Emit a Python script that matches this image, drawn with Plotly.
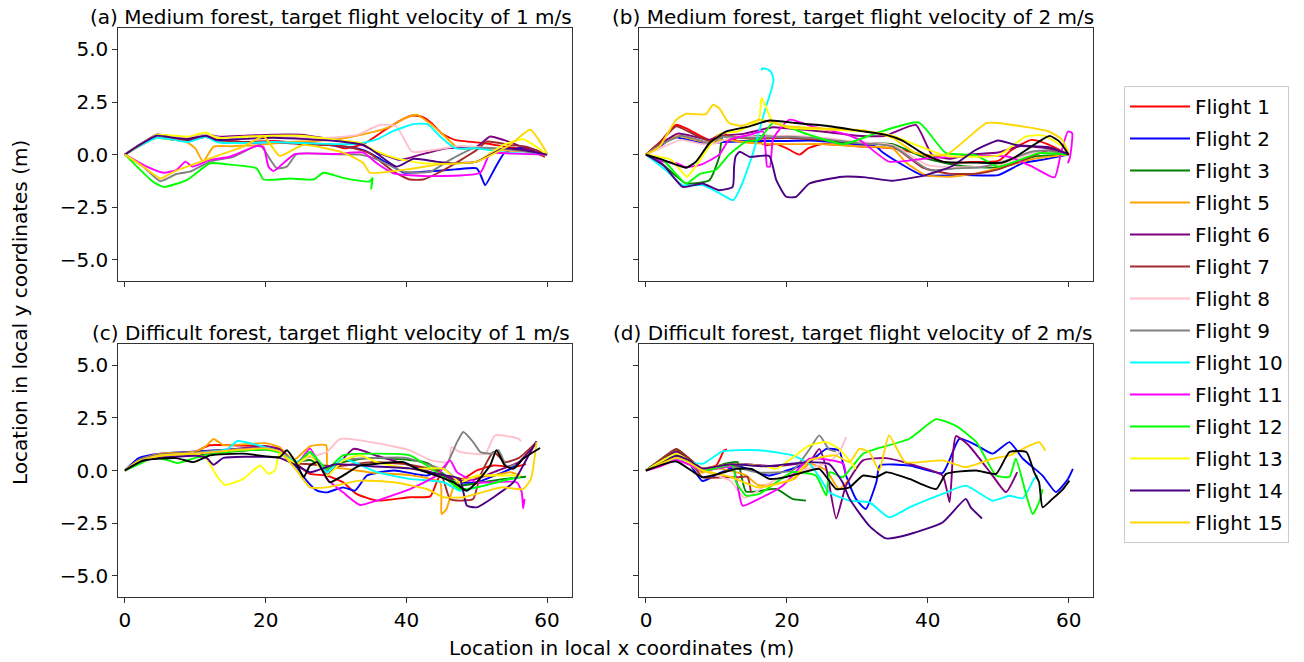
import plotly.graph_objects as go

# ---------------- data ----------------
FLIGHTS = ["Flight 1", "Flight 2", "Flight 3", "Flight 5", "Flight 6", "Flight 7", "Flight 8",
           "Flight 9", "Flight 10", "Flight 11", "Flight 12", "Flight 13", "Flight 14", "Flight 15"]
COLORS = ["#ff0000", "#0000ff", "#008000", "#ffa500", "#800080", "#a52a2a", "#ffc0cb",
          "#808080", "#00ffff", "#ff00ff", "#00ff00", "#ffff00", "#4b0082", "#ffd700"]
REF_NAME = "Reference"
REF_COLOR = "#000000"

TITLES = ["(a) Medium forest, target flight velocity of 1 m/s",
          "(b) Medium forest, target flight velocity of 2 m/s",
          "(c) Difficult forest, target flight velocity of 1 m/s",
          "(d) Difficult forest, target flight velocity of 2 m/s"]
X_LABEL = "Location in local x coordinates (m)"
Y_LABEL = "Location in local y coordinates (m)"
Y_TICKS = [-5.0, -2.5, 0.0, 2.5, 5.0]
X_TICKS = [0, 20, 40, 60]

# (a) medium forest, 1 m/s
MED_1 = {
    "Flight 1": ([0, 2, 4.5, 7, 9, 11.5, 13.5, 17, 21, 25, 29, 31.3, 34.1, 37, 39.3, 40.8, 42.2, 43.6, 45, 46.9, 51.2, 54, 57, 59.7],
                 [0, 0.45, 0.9, 0.75, 0.7, 0.9, 0.7, 0.6, 0.65, 0.55, 0.5, 0.3, 0.54, 1.18, 1.65, 1.86, 1.8, 1.49, 1.02, 0.7, 0.54, 0.38, 0.25, -0.1]),
    "Flight 2": ([0, 2, 4.5, 7, 9, 11.5, 13.5, 17, 21, 25, 29, 32, 34, 36, 38, 39.6, 43, 47, 50, 50.6, 51.2, 52.5, 54, 57, 60],
                 [0, 0.45, 0.85, 0.7, 0.65, 0.85, 0.6, 0.55, 0.6, 0.55, 0.45, 0.35, 0.2, -0.15, -0.55, -0.85, -0.8, -0.7, -0.65, -1.0, -1.45, -0.7, 0.1, 0.35, 0.0]),
    "Flight 5": ([0, 2, 4.5, 7, 8.8, 10, 11.1, 12.6, 15, 19, 23, 27, 31.5, 34.6, 37.5, 39.8, 41.5, 43.6, 45.5, 47.4, 50, 54, 57, 60],
                 [0, 0.4, 0.8, 0.7, 0.6, 0.3, -0.33, 0.38, 0.4, 0.45, 0.6, 0.65, 0.8, 1.02, 1.3, 1.73, 1.89, 1.42, 0.86, 0.3, 0.3, 0.2, 0.15, 0.0]),
    "Flight 6": ([0, 2, 4.5, 7, 9, 11.5, 13.5, 17, 21, 25, 29, 32, 33.4, 36, 39.1, 42, 45.7, 50, 51.9, 53.8, 57, 60],
                 [0, 0.45, 0.95, 0.85, 0.8, 0.95, 0.85, 0.9, 0.95, 0.95, 0.75, 0.6, 0.5, 0.1, -0.25, 0.0, 0.3, 0.38, 0.86, 0.7, 0.3, 0.0]),
    "Flight 7": ([0, 2, 4.5, 7, 9, 11.5, 13.5, 17, 21, 25, 29, 32, 34.8, 38.2, 40.5, 42.4, 45.3, 50, 51.4, 55, 57, 60],
                 [0, 0.4, 0.85, 0.75, 0.7, 0.85, 0.65, 0.6, 0.6, 0.5, 0.45, 0.35, 0.06, -0.81, -1.18, -1.18, -0.73, 0.22, 0.62, 0.45, 0.38, 0]),
    "Flight 8": ([0, 2, 4.5, 7, 9, 11.5, 13.5, 17, 21, 25, 29, 31, 33, 36.3, 38.6, 40.8, 43.8, 47.6, 52, 56, 60],
                 [0, 0.45, 0.9, 0.85, 0.8, 0.95, 0.8, 0.85, 0.85, 0.8, 0.8, 0.85, 0.94, 1.42, 1.34, 0.14, 0.22, 0.41, 0.3, 0.2, 0]),
    "Flight 9": ([0, 2.6, 5, 7.3, 9.2, 12.1, 15.4, 19.2, 20.1, 21.6, 23, 24.4, 30, 33.4, 36, 39.6, 43.4, 46.2, 49.5, 53, 57, 60],
                 [0, -0.57, -1.26, -0.92, -0.81, -0.33, -0.1, 0.46, 0.06, -0.65, -0.57, 0.02, 0.02, 0.0, -0.25, -0.81, -0.81, -0.25, 0.3, 0.3, 0.15, 0]),
    "Flight 10": ([0, 2, 4.5, 7, 9, 11.5, 13, 17, 21, 25, 30, 33, 36, 38, 41, 43, 45, 47, 50, 54, 57, 60],
                  [0, 0.4, 0.8, 0.7, 0.6, 0.85, 0.6, 0.55, 0.6, 0.55, 0.5, 0.5, 0.75, 1.1, 1.45, 1.45, 0.8, 0.3, 0.3, 0.1, 0.05, 0]),
    "Flight 11": ([0, 3.1, 5.5, 7.3, 8.6, 9.6, 12.1, 14.9, 18.7, 19.7, 20.4, 21.1, 22.5, 24.2, 30, 33.9, 35.8, 38.2, 42.9, 50.5, 51.9, 55, 60],
                  [0, -0.57, -0.86, -0.73, -0.33, -0.57, -0.25, -0.1, 0.41, 0.35, -0.57, -0.78, -0.41, 0.03, 0.03, 0.1, -0.41, -0.89, -1.02, -0.86, 0.06, 0.05, 0]),
    "Flight 12": ([0, 4, 5.5, 8.8, 12.1, 14.5, 18.7, 19.7, 23.5, 26.8, 28.2, 31, 34.8, 35.2, 35.0, 35.1],
                  [0, -1.29, -1.53, -1.21, -0.41, -0.46, -0.65, -1.18, -1.13, -1.18, -0.86, -1.1, -1.27, -1.1, -1.62, -1.3]),
    "Flight 13": ([0, 2, 4.5, 7, 9, 11.5, 13, 17, 21, 25, 30, 33.5, 35.5, 38.6, 42.4, 50, 53.8, 56.6, 60],
                  [0, 0.45, 0.94, 0.9, 0.85, 1.05, 0.8, 0.85, 0.9, 0.9, 0.7, 0.55, 0.2, -0.18, -0.41, -0.33, 0.46, 0.73, 0]),
    "Flight 14": ([0, 2, 4.5, 7, 9, 11.5, 13, 17, 21, 25, 30, 33.9, 35.8, 38.6, 41, 44.2, 47, 50, 53.8, 57, 60],
                  [0, 0.45, 0.9, 0.8, 0.75, 0.9, 0.7, 0.75, 0.8, 0.75, 0.65, 0.46, 0.06, -0.57, -0.2, -0.33, -0.41, -0.33, 0.3, 0.2, 0]),
    "Flight 15": ([0, 2.6, 5, 7, 8.8, 12.1, 16.8, 19.7, 22, 25.3, 31, 33.9, 34.8, 40, 45, 50, 54.7, 57.6, 60],
                  [0, -0.57, -1.13, -0.8, -0.57, -0.18, 0.38, 0.86, -0.06, 0.46, 0.1, -0.41, -0.86, -0.7, -0.45, -0.33, 0.46, 1.18, 0.06]),
}
MED_1_REF = None

# (b) medium forest, 2 m/s
MED_2 = {
    "Flight 1": ([0, 2, 4.3, 6, 9, 10.9, 13, 16, 17, 18.5, 20, 21.8, 23, 25, 30, 35, 39.2, 42.9, 46, 50, 51.9, 54.7, 57, 60],
                 [0, 0.6, 1.42, 1.2, 0.7, 1.02, 0.65, 0.6, 0.45, 0.5, 0.3, 0.0, 0.3, 0.5, 0.4, 0.3, 0.0, -0.4, -0.35, -0.3, 0.22, 0.7, 0.5, 0]),
    "Flight 2": ([0, 2, 3.9, 6, 8.4, 11, 15, 20, 23.2, 28, 32.7, 33.5, 36, 39.2, 45.4, 50, 53.4, 56.2, 60],
                 [0, 0.4, 0.83, 0.7, 0.54, 0.6, 0.65, 0.65, 0.67, 0.55, 0.38, 0.14, -0.4, -0.97, -0.97, -0.97, -0.41, -0.25, 0]),
    "Flight 3": ([0, 2.5, 5.7, 9, 10.4, 10.9, 13, 17, 20, 25, 30, 35, 40, 45, 50, 55, 60],
                 [0, -0.5, -1.37, -1.21, -0.1, 0.86, 0.8, 0.9, 0.85, 0.7, 0.55, 0.5, -0.2, -0.55, -0.6, -0.1, 0]),
    "Flight 5": ([0, 2, 4.5, 7, 9, 11, 15, 20, 25, 30, 35, 37, 39.7, 42.9, 46.7, 51.7, 55, 60],
                 [0, 0.45, 0.9, 0.7, 0.55, 0.7, 0.55, 0.5, 0.5, 0.4, 0.3, -0.4, -0.97, -1.05, -0.9, -0.5, -0.2, 0]),
    "Flight 6": ([0, 2, 4.5, 7, 9, 11, 14, 18, 20, 25, 30, 34, 38.3, 40.6, 43, 46, 50, 53, 57, 60],
                 [0, 0.5, 1.0, 0.85, 0.7, 0.9, 1.0, 1.3, 1.25, 1.1, 0.9, 0.9, 1.41, 0.0, -0.2, 0.0, 0.1, 0.4, 0.3, 0]),
    "Flight 7": ([0, 2, 4.3, 6, 9, 11, 15, 20, 25, 30, 35, 39.2, 43, 47, 50, 54, 57, 60],
                 [0, 0.6, 1.35, 1.1, 0.65, 0.9, 0.75, 0.8, 0.7, 0.6, 0.4, -0.6, -0.9, -0.9, -0.7, -0.2, 0.2, 0]),
    "Flight 8": ([0, 2, 5, 8, 10, 12, 16, 20, 25, 30, 35, 40, 45, 50, 55, 60],
                 [0, 0.3, 0.7, 0.5, 0.55, 0.8, 0.85, 0.9, 0.8, 0.6, 0.45, -0.5, -0.6, -0.5, 0.1, 0]),
    "Flight 9": ([0, 2, 5, 7, 9, 11, 15, 20, 25, 30, 35, 40.2, 44, 47.4, 51, 54.7, 57, 60],
                 [0, 0.45, 0.9, 0.75, 0.55, 0.85, 0.8, 0.85, 0.75, 0.55, 0.4, -0.73, -0.65, -0.6, -0.3, 0.14, 0.2, 0]),
    "Flight 10": ([0, 2.8, 5.2, 8, 10.4, 12.4, 13.5, 15.2, 16.9, 17.8, 18.1, 17.8, 17.3, 16.5, 16.4],
                  [0, -0.73, -1.45, -1.45, -1.82, -2.16, -1.5, 0.07, 2.13, 3.08, 3.56, 3.9, 4.05, 4.1, 4.0]),
    "Flight 11": ([0, 2, 4.3, 5.7, 8, 10.4, 11.8, 14.7, 16.6, 17, 17.2, 17.6, 18, 18.9, 20.4, 24, 28, 30.3, 34.5, 39.8, 46.9, 51.5, 55, 58, 58.9, 59.9, 60.5, 60.2, 59.9],
                  [0, -0.3, -0.41, -0.6, -0.45, 0, 0.7, 0.94, 1.1, 0.1, -0.57, -0.57, 0.7, 1.18, 1.66, 1.3, 1.0, 0.7, -0.33, -0.18, -0.06, -0.1, -0.6, -1.08, 0.06, 1.1, 1.02, -0.1, -0.41]),
    "Flight 12": ([0, 2.4, 5.7, 7.6, 9.9, 11.8, 14.2, 16, 18, 19.9, 23.2, 28, 32.7, 38.7, 42.6, 46.8, 50, 55.8, 60],
                  [0, -0.25, -1.37, -0.92, -0.73, 0, 0.62, 0.7, 1.5, 1.34, 0.94, 0.5, 1.02, 1.53, 0.07, -0.02, -0.57, 0.07, 0]),
    "Flight 13": ([0, 3.6, 5.8, 7, 9.3, 10.7, 13, 16, 16.4, 17, 17.8, 20, 25, 31, 35, 38, 42.6, 46, 50, 53.9, 56.5, 60],
                  [0, -0.25, -1.05, -0.57, 0.54, 1.02, 1.1, 1.65, 2.69, 2.3, 1.65, 1.3, 1.2, 1.1, 0.9, 0.5, -0.05, -0.1, -0.05, 0.86, 0.9, 0.2]),
    "Flight 14": ([0, 2.5, 5.2, 8, 10.4, 12.3, 12.5, 12.7, 13.3, 14.7, 17.5, 18.5, 19.9, 21.3, 23.2, 27.9, 31.2, 34.9, 39.7, 43.5, 46.8, 50, 52.5, 57.2, 60],
                  [0, -0.5, -1.53, -1.37, -1.69, -1.53, -0.6, -0.1, 0.14, -0.1, -0.06, -1.21, -2.0, -2.0, -1.37, -1.05, -1.08, -1.24, -0.97, -0.54, 0.22, 0.67, 0.46, 0.35, 0]),
    "Flight 15": ([0, 1.9, 4.3, 5.7, 8.5, 9.5, 10.4, 11.8, 13.7, 16.1, 20, 25, 31.2, 35, 38.3, 42.6, 48.3, 50, 57.2, 59.1, 60],
                  [0, 0.38, 1.66, 1.94, 1.92, 2.37, 2.2, 1.5, 1.37, 1.66, 1.35, 1.25, 1.14, 0.8, 0.07, -0.01, 1.5, 1.5, 1.1, 0.7, 0]),
}
MED_2_REF = ([0, 2.4, 5.7, 7.1, 9, 11.4, 14.7, 17.5, 21.3, 25.6, 30.3, 34.1, 36.4, 39.3, 42.1, 46.9, 50.6, 52.5, 55.4, 57.3, 58.7, 60],
             [0, -0.25, -0.62, -0.33, 0.54, 1.1, 1.34, 1.62, 1.5, 1.37, 1.13, 0.94, 0.67, 0.06, -0.33, -0.38, -0.38, -0.1, 0.54, 0.89, 0.62, 0])

# (c) difficult forest, 1 m/s
DIF_1 = {
    "Flight 1": ([0, 2, 5, 10, 12, 15, 20, 22, 24.4, 26.3, 28.7, 31, 32.9, 35.8, 40.5, 43.4, 44.8, 48, 50, 52.4, 55.2, 57],
                 [0, 0.5, 0.75, 0.9, 1.2, 1.2, 1.15, 1.0, 0.32, -0.16, -0.24, -0.56, -1.11, -1.43, -1.27, -1.23, -0.24, -0.4, 0.0, 0.24, 0.16, 0.3]),
    "Flight 2": ([0, 2, 5, 10, 15, 20, 22, 24.4, 25.8, 27.3, 28.7, 31, 32.7, 34.4, 38.2, 42.9, 45.3, 47.6, 50, 54.8, 56.2],
                 [0, 0.6, 0.8, 0.9, 1.0, 1.1, 0.9, 0.16, -0.48, -0.96, -1.04, -0.8, -0.96, -0.24, 0.0, -0.24, 0.08, -0.56, -0.56, 0.08, 0.4]),
    "Flight 3": ([0, 2, 5, 10, 15, 20, 22, 24, 26.3, 28.7, 31, 35, 40.5, 43, 45, 47.6, 50, 54, 57],
                 [0, 0.4, 0.7, 0.75, 0.9, 1.0, 0.9, 0.4, 0.5, 0.1, 0.4, 0.6, 0.5, 0.35, -0.1, -0.7, -0.6, -0.4, -0.3]),
    "Flight 5": ([0, 2, 5, 10, 11.6, 12.6, 14, 17, 20, 22, 24, 26.3, 28.6, 28.8, 31, 35, 40, 44.8, 45, 45.7, 46.7, 48.1, 52.4, 54.8, 56.2],
                 [0, 0.5, 0.8, 0.9, 1.19, 1.5, 1.2, 1.25, 1.3, 1.1, 0.5, 1.15, 1.2, 0.2, 0.1, -0.1, -0.2, -0.56, -2.07, -1.83, -0.8, -0.4, -0.24, -0.08, -0.24]),
    "Flight 6": ([0, 2, 5, 10, 15, 20, 22, 24.4, 26.3, 28.7, 32.5, 35.8, 40.5, 45, 48, 50, 53, 56, 58.5],
                 [0, 0.45, 0.7, 0.8, 1.0, 1.15, 1.0, 0.3, 0.88, -0.2, 1.03, 0.7, 0.24, -0.24, -0.5, -0.4, 0.0, 0.4, 1.35]),
    "Flight 7": ([0, 2, 5, 10, 15, 20, 22, 24, 26.3, 30, 35, 40, 44.8, 46.2, 47.6, 49.5, 50.5, 52.4, 54, 56, 58.5],
                 [0, 0.5, 0.75, 0.85, 0.95, 1.05, 0.9, 0.35, 0.3, 0.2, 0.4, 0.3, -0.1, -1.35, -1.43, -1.35, -0.24, 0.88, 0.4, 0.6, 1.35]),
    "Flight 8": ([0, 2, 5, 10, 15, 20, 22, 24, 26, 28.7, 30.6, 35.8, 40.5, 43.5, 46, 46.4, 47.5, 51.2, 52.6, 55.9, 56.3],
                 [0, 0.4, 0.7, 0.8, 0.95, 1.05, 0.9, 0.3, 0.6, 0.88, 1.5, 1.3, 0.96, 0.48, 0.4, 1.11, 0.9, 0.8, 1.67, 1.52, 1.4]),
    "Flight 9": ([0, 2, 5, 10, 15, 20, 22, 24, 26.3, 28.7, 31, 35.8, 40, 43, 45.3, 47.2, 48.1, 49.5, 50.5, 52, 53.1, 54.3, 55.5],
                 [0, 0.5, 0.75, 0.85, 1.0, 1.05, 0.85, 0.3, 0.7, 0.0, 0.5, 0.6, 0.6, 0.3, 0.08, 1.35, 1.83, 1.35, 0.88, 0.8, 0.96, 0.16, 0.3]),
    "Flight 10": ([0, 2, 5, 10, 14.5, 16, 20, 22, 24.4, 26.3, 28.7, 31, 35.8, 40.5, 45.3, 47.6, 50, 54.8, 56],
                  [0, 0.45, 0.7, 0.8, 1.0, 1.4, 1.1, 0.9, 0.4, 0.88, -0.08, 0.56, -0.08, -0.4, -0.56, -0.96, -0.8, -0.4, -0.3]),
    "Flight 11": ([0, 2, 5, 10, 15, 20, 22, 24.4, 26.3, 28.7, 31, 33.4, 35.8, 40.5, 44.3, 46.2, 47.2, 50, 55.7, 56.4, 56.6, 56.8],
                  [0, 0.45, 0.7, 0.8, 0.95, 1.05, 0.9, 0.3, 1.04, -0.4, -1.04, -1.64, -1.43, -0.88, -0.24, 0.48, -0.08, -0.56, -0.56, -1.04, -1.8, -1.35]),
    "Flight 12": ([0, 2, 4, 6, 7.5, 10, 15, 20, 22, 24.4, 26.3, 28.7, 31, 35.8, 40.5, 45.3, 47.6, 50, 54.8, 56.2],
                  [0, 0.3, 0.6, 0.5, 0.35, 0.6, 0.9, 1.0, 0.85, 0.32, 0.88, 0.08, 0.72, 0.8, 0.72, -0.32, -0.88, -0.8, -0.4, -0.32]),
    "Flight 13": ([0, 2, 5, 10, 11.6, 13, 14.2, 16.8, 19.2, 20.4, 21.3, 22, 24.4, 26.3, 28.7, 31, 33.4, 35.8, 40.5, 45.3, 47.6, 50, 54.8, 56.2],
                  [0, 0.45, 0.7, 0.8, 0.56, -0.24, -0.68, -0.4, 0.24, -0.16, 0.0, 0.8, 0.3, 0.72, -0.24, 0.48, 0.72, 0.4, 0.08, 0.08, -0.56, -0.24, -0.24, -0.24]),
    "Flight 14": ([0, 2, 5, 10, 11.6, 12.6, 14, 20, 22, 24.4, 26.3, 30, 35, 40.5, 45, 47.6, 48.6, 50, 52.4, 55.2, 57.5, 58.5],
                  [0, 0.4, 0.6, 0.7, 0.6, 0.27, 0.6, 0.65, 0.6, 0.24, -0.08, 0.3, 0.2, 0.1, -0.2, -0.4, -1.67, -1.75, -1.27, -0.56, 0.8, 1.39]),
    "Flight 15": ([0, 2, 5, 10, 15, 20, 22, 24.4, 26.3, 28.7, 33.4, 38.2, 42.9, 45.3, 48.1, 50, 53.5, 56.6, 57.7, 58.5],
                  [0, 0.45, 0.7, 0.8, 0.95, 1.05, 0.9, 0.0, -0.8, -0.8, -0.48, -0.56, -0.88, -1.27, -1.27, -1.11, -0.8, -0.88, -0.4, 1.35]),
}
DIF_1_REF = ([0, 2.6, 7.3, 9.7, 12.1, 16.8, 22, 23, 24.4, 25.4, 26.3, 27.3, 28.2, 29.1, 31, 33.4, 35.8, 39.6, 41.5, 44.3, 46.7, 48.6, 50, 51.9, 52.8, 54, 55.2, 56.6, 59],
             [0, 0.48, 0.59, 0.4, 0.72, 0.8, 0.64, 0.96, 0.32, -0.32, 0.24, 0.4, -0.08, -0.56, -0.24, 0.24, 0.32, 0.4, 0.08, -0.24, -0.56, -0.96, -0.56, 0.24, 0.96, 0.24, 0.08, 0.56, 1.07])

# (d) difficult forest, 2 m/s
DIF_2 = {
    "Flight 1": ([0, 1, 2, 4.3, 6, 8, 10, 11.1, 11.5],
                 [0, 0.2, 0.25, 0.9, 0.6, 0.1, 0.25, 0.96, 1.0]),
    "Flight 2": ([0, 2, 4.3, 6, 8, 10, 13, 17.5, 20, 23.2, 25.6, 27.4, 28.4, 29.8, 31.2, 32.7, 33.2, 37.4, 42.1, 44.5, 46.9, 49.2, 51.6, 53.5, 56.3, 58.2, 59.9, 60.6],
                 [0, 0.3, 0.8, 0.4, -0.5, -0.2, 0.2, -0.24, 0.0, 0.4, 1.03, 0.95, -0.24, -1.35, -1.83, -0.56, 0.24, 0.24, -0.11, 1.51, 1.2, 0.8, 1.35, 0.56, -0.24, -1.03, -0.4, 0.08]),
    "Flight 3": ([0, 2, 4.3, 6, 8, 11, 13, 14.2, 18.5, 20.8, 22.7],
                 [0, 0.5, 1.0, 0.6, 0.0, 0.3, 0.4, -1.0, -0.88, -1.35, -1.43]),
    "Flight 5": ([0, 2, 4.3, 6, 8, 10, 14, 16, 19, 21, 23.2, 25.6, 27.4, 28.9],
                 [0, 0.2, 0.5, 0.3, -0.1, 0.1, -0.2, -0.7, -0.6, -0.4, 0.32, 0.0, -0.88, -0.4]),
    "Flight 6": ([0, 2, 4.3, 6, 8, 10, 14, 18, 21, 23.2, 24.6, 25.6, 27, 28.4, 30.8, 34.1, 37.4, 42.1, 43.1, 43.6, 44, 45.8, 49.2, 51.1, 52.7],
                 [0, 0.4, 0.9, 0.5, 0.0, 0.1, 0.3, 0.2, 0.3, 0.4, 1.03, 0.1, -2.28, -0.72, 0.48, 0.59, 0.32, -0.24, -1.51, 0.88, 1.64, 1.2, -0.24, -1.03, -0.08]),
    "Flight 7": ([0, 2, 4.3, 6, 8, 10.9, 13, 14.4, 14.9],
                 [0, 0.5, 1.03, 0.6, -0.32, -0.32, -0.32, -0.3, -1.03]),
    "Flight 8": ([0, 2, 4.3, 6, 8, 12, 14, 18, 22, 26, 27.5, 28.4],
                 [0, 0.2, 0.5, 0.3, 0.0, -0.5, -1.3, -0.5, 0.0, 0.4, 0.9, 1.59]),
    "Flight 9": ([0, 2, 4.3, 6, 8, 12, 16, 20.8, 23.2, 24.6, 26, 27],
                 [0, 0.3, 0.7, 0.4, 0.0, 0.2, -0.1, 0.0, 1.0, 1.67, 1.0, 0.9]),
    "Flight 10": ([0, 4, 8, 10.9, 16.1, 20.8, 23.2, 24.6, 26, 28.9, 31.7, 34.5, 37.4, 42.1, 45.4, 49.2, 51.6, 53.5, 55.1, 55.6],
                  [0, 0.5, 0.32, 0.91, 0.96, 0.72, 0.32, -0.3, -1.03, -1.43, -1.51, -2.23, -1.75, -1.11, -0.72, -1.43, -1.2, -1.32, -0.4, -0.24]),
    "Flight 11": ([0, 2, 4.3, 6, 8, 12.3, 13.7, 16, 19.4, 23.2, 25.6, 28, 28.4],
                  [0, 0.2, 0.5, 0.3, 0.0, 0.16, -1.67, -1.35, -0.72, 0.56, 0.52, 0.32, -0.24]),
    "Flight 12": ([0, 2, 4.3, 6, 8, 12.3, 12.8, 14.2, 16.1, 20.8, 24.1, 25.6, 26.1, 27.9, 30.8, 32.7, 37.4, 41.2, 44, 46.9, 49.7, 51.6, 52.5, 54, 54.9, 55.8, 56.3],
                  [0, 0.4, 0.8, 0.5, 0.0, 0.24, -0.56, -1.19, -1.11, -0.08, -0.24, -1.19, -0.08, -0.32, 0.8, 1.03, 1.51, 2.44, 2.12, 1.35, -0.24, -0.3, 0.56, -1.19, -2.07, -1.51, -0.88]),
    "Flight 13": ([0, 2, 4.3, 6, 8, 12, 17, 18.5, 23.2, 25.6, 27.4, 29.8],
                  [0, 0.4, 0.8, 0.5, 0.1, 0.3, 0.2, 0.08, 1.19, 1.35, 1.03, 0.08]),
    "Flight 14": ([0, 2, 4.3, 6, 8, 12, 17, 23, 26, 27.9, 28.9, 31.7, 34.1, 37.4, 42.1, 45.4, 46.1, 47.7],
                  [0, 0.3, 0.7, 0.5, 0.1, 0.3, 0.2, 0.4, 0.3, -0.56, -1.35, -2.63, -3.23, -3.03, -2.47, -1.35, -1.75, -2.28]),
    "Flight 15": ([0, 2, 4.3, 6, 8, 12, 16, 20.8, 23.2, 26.9, 28.9, 30.3, 31.7, 33.1, 34.5, 36.8, 42.1, 45.4, 49.2, 51.6, 54, 55.8, 56.7],
                  [0, 0.3, 0.6, 0.4, 0.0, -0.3, -0.8, -0.4, 0.48, 0.72, 0.4, 1.03, 0.88, 0.0, 1.67, 0.4, 0.48, 0.16, 0.56, 0.72, 1.11, 1.35, 0.95]),
}
DIF_2_REF = ([0, 4.3, 8, 10.9, 12.8, 15, 17.5, 20, 22.2, 24.6, 27, 28.9, 30.8, 32.7, 34.1, 37.4, 41.2, 42.6, 46.9, 49.7, 51.6, 54, 55.1, 55.8, 56.3, 57.7, 59.2, 60.1],
             [0, 0.43, -0.32, -0.1, 0.08, 0.08, -0.4, -0.3, -0.1, 0.08, -0.88, -0.8, -0.24, -0.32, -0.08, -0.4, -0.88, -0.16, 0.0, -0.16, 0.88, 0.88, -0.08, -0.56, -1.75, -1.35, -0.88, -0.48])

PANELS = [(MED_1, MED_1_REF), (MED_2, MED_2_REF), (DIF_1, DIF_1_REF), (DIF_2, DIF_2_REF)]

# ---------------- figure ----------------
W, H = 1304, 662
FONT = "DejaVu Sans"
FS = 20

# axes boxes in pixels (left, right, top, bottom)
BOXES = [(118.3, 571.7, 28.3, 281.0), (639.3, 1093.3, 28.3, 281.0),
         (118.3, 571.7, 344.3, 596.7), (639.3, 1093.3, 344.3, 596.7)]
TITLE_POS = [(331, 17), (853, 17), (331, 333), (853, 333)]

fig = go.Figure()
seen = set()
for i, (panel, ref) in enumerate(PANELS):
    xa = "x" if i == 0 else f"x{i+1}"
    ya = "y" if i == 0 else f"y{i+1}"
    for k, (name, color) in enumerate(zip(FLIGHTS, COLORS)):
        if name not in panel:
            continue
        xs, ys = panel[name]
        fig.add_trace(go.Scatter(
            x=xs, y=ys, mode="lines", name=name, legendgroup=name, legendrank=10 + k,
            showlegend=name not in seen,
            line=dict(color=color, width=1.9, shape="spline", smoothing=0.5),
            xaxis=xa, yaxis=ya))
        seen.add(name)
    if ref is not None:
        fig.add_trace(go.Scatter(
            x=ref[0], y=ref[1], mode="lines", name=REF_NAME, showlegend=False,
            line=dict(color=REF_COLOR, width=1.9, shape="spline", smoothing=0.5),
            xaxis=xa, yaxis=ya))

layout = dict(width=W, height=H, margin=dict(l=0, r=0, t=0, b=0),
              paper_bgcolor="white", plot_bgcolor="white",
              font=dict(family=FONT, size=FS, color="#000000"),
              legend=dict(x=1124 / W, y=1 - 86 / H, xanchor="left", yanchor="top",
                          bordercolor="#cccccc", borderwidth=1, bgcolor="white",
                          font=dict(family=FONT, size=FS), tracegroupgap=3,
                          itemwidth=60))
annotations = []
for i, (l, r, t, b) in enumerate(BOXES):
    sfx = "" if i == 0 else str(i + 1)
    bottom_row = i >= 2
    left_col = i % 2 == 0
    common = dict(showline=True, mirror=True, linecolor="#333333", linewidth=1,
                  ticks="outside", ticklen=5, tickcolor="#333333", showgrid=False,
                  zeroline=False, tickfont=dict(family=FONT, size=FS))
    layout["xaxis" + sfx] = dict(domain=[l / W, r / W], range=[-0.95, 63.5],
                                 tickvals=X_TICKS, showticklabels=bottom_row,
                                 anchor="y" + sfx, **common)
    layout["yaxis" + sfx] = dict(domain=[1 - b / H, 1 - t / H], range=[-6.0, 6.0],
                                 tickvals=Y_TICKS, tickformat=".1f",
                                 showticklabels=left_col, anchor="x" + sfx, **common)
    tx, ty = TITLE_POS[i]
    annotations.append(dict(text=TITLES[i], x=tx / W, y=1 - ty / H,
                            xref="paper", yref="paper", xanchor="center", yanchor="middle",
                            showarrow=False, font=dict(family=FONT, size=FS)))
annotations.append(dict(text=X_LABEL, x=621 / W, y=1 - 648 / H, xref="paper", yref="paper",
                        xanchor="center", yanchor="middle", showarrow=False,
                        font=dict(family=FONT, size=FS)))
annotations.append(dict(text=Y_LABEL, x=20 / W, y=1 - 313 / H, xref="paper", yref="paper",
                        xanchor="center", yanchor="middle", textangle=-90, showarrow=False,
                        font=dict(family=FONT, size=FS)))
layout["annotations"] = annotations
fig.update_layout(**layout)
fig.write_html("out.html")
